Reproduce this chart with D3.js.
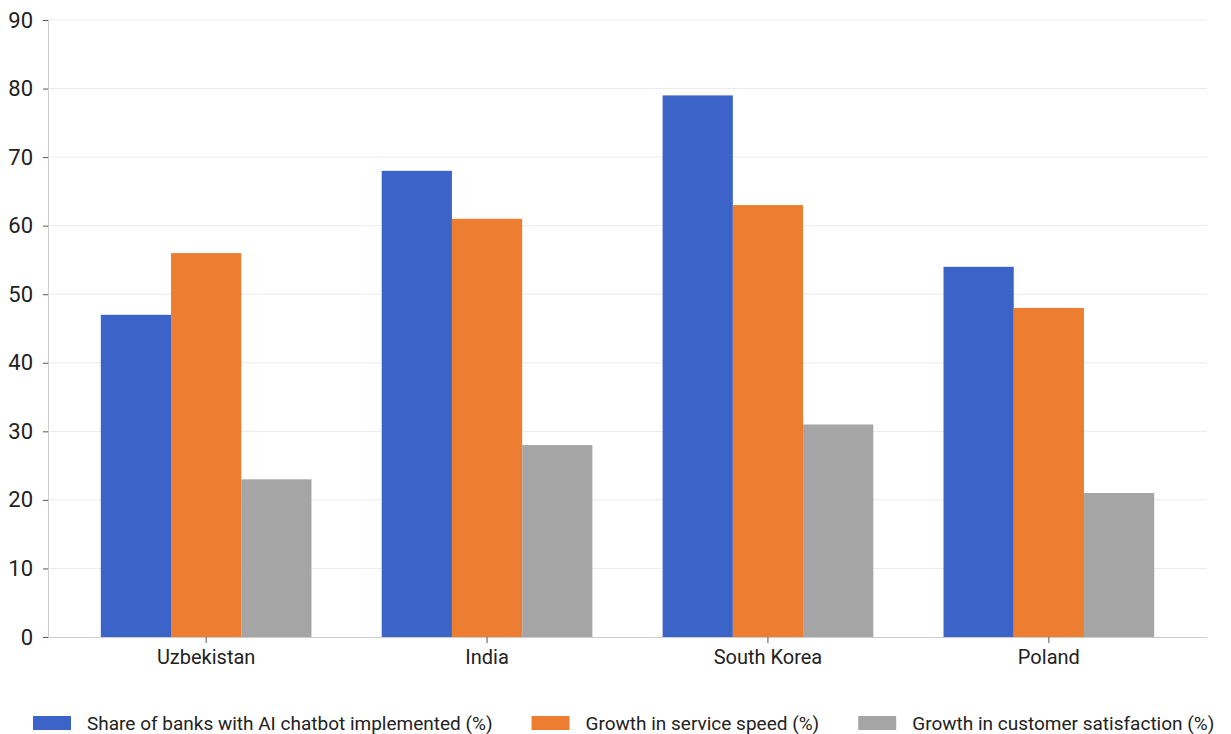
<!DOCTYPE html>
<html>
<head>
<meta charset="utf-8">
<script src="https://cdn.jsdelivr.net/npm/d3@7"></script>
<style>
  body { margin: 0; background: #fff; }
  svg { display: block; font-family: Roboto, sans-serif; }
</style>
</head>
<body>
<svg id="chart" width="1231" height="734"></svg>
<script>
const countries = ["Uzbekistan", "India", "South Korea", "Poland"];
const seriesNames = [
    "Share of banks with AI chatbot implemented (%)",
    "Growth in service speed (%)",
    "Growth in customer satisfaction (%)"
];
const chatbotShare = [47, 68, 79, 54];
const serviceSpeed = [56, 61, 63, 48];
const satisfaction = [23, 28, 31, 21];
const yTicks = [0, 10, 20, 30, 40, 50, 60, 70, 80, 90];
const colors = ["#3c63c8", "#ed7d31", "#a5a5a5"];

const seriesValues = [chatbotShare, serviceSpeed, satisfaction];

const svg = d3.select("#chart");
const plotLeft = 48, plotRight = 1207, plotTop = 20, plotBottom = 637;

const x = d3.scaleBand()
    .domain(countries)
    .range([plotLeft, plotRight])
    .paddingInner(0.25)
    .paddingOuter(0.188);

const xInner = d3.scaleBand()
    .domain(d3.range(seriesNames.length))
    .range([0, x.bandwidth()]);

const y = d3.scaleLinear()
    .domain([0, 90])
    .range([plotBottom, plotTop]);

// gridlines
svg.append("g")
    .selectAll("line")
    .data(yTicks.filter(d => d > 0))
    .join("line")
    .attr("x1", plotLeft)
    .attr("x2", plotRight)
    .attr("y1", d => y(d))
    .attr("y2", d => y(d))
    .attr("stroke", "#ebebeb")
    .attr("stroke-width", 1);

// bars
const groups = svg.append("g")
    .selectAll("g")
    .data(countries)
    .join("g")
    .attr("transform", d => `translate(${x(d)},0)`);

groups.selectAll("rect")
    .data((d, i) => seriesValues.map((s, j) => ({ s: j, v: s[i] })))
    .join("rect")
    .attr("x", d => xInner(d.s))
    .attr("width", xInner.bandwidth())
    .attr("y", d => y(d.v))
    .attr("height", d => y(0) - y(d.v))
    .attr("fill", d => colors[d.s]);

// y axis
const yAxis = svg.append("g")
    .attr("transform", `translate(${plotLeft},0)`)
    .call(d3.axisLeft(y).tickValues(yTicks).tickSize(5).tickPadding(10));
yAxis.select(".domain").attr("stroke", "#cccccc");
yAxis.selectAll(".tick line").attr("stroke", "#555");
yAxis.selectAll(".tick text")
    .attr("font-size", 22)
    .attr("font-family", "Roboto, sans-serif")
    .attr("fill", "#222");

// x axis
const xAxis = svg.append("g")
    .attr("transform", `translate(0,${plotBottom})`)
    .call(d3.axisBottom(x).tickSize(6).tickPadding(7).tickSizeOuter(0));
xAxis.select(".domain").attr("stroke", "#cccccc").attr("d", `M${plotLeft},0.5H${plotRight}`);
xAxis.selectAll(".tick line").attr("stroke", "#555");
xAxis.selectAll(".tick text")
    .attr("font-size", 20)
    .attr("font-family", "Roboto, sans-serif")
    .attr("fill", "#222");

// legend
const legend = svg.append("g").attr("transform", "translate(0,716)");
let lx = 33;
seriesNames.forEach((name, i) => {
    const item = legend.append("g").attr("transform", `translate(${lx},0)`);
    item.append("rect")
        .attr("width", 38)
        .attr("height", 14)
        .attr("fill", colors[i]);
    const t = item.append("text")
        .attr("x", 54)
        .attr("y", 7)
        .attr("dy", "0.35em")
        .attr("font-size", 19)
        .attr("fill", "#222")
        .text(name);
    lx += 54 + t.node().getComputedTextLength() + 39;
});
</script>
</body>
</html>
